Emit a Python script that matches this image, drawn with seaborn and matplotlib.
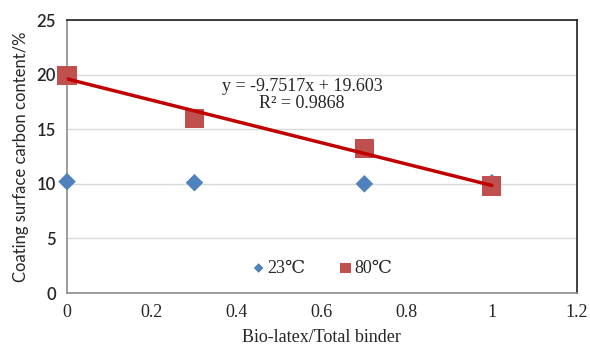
import numpy as np
import pandas as pd
import matplotlib
matplotlib.use("Agg")
import matplotlib.pyplot as plt
import seaborn as sns

# data
ratio = [0, 0.3, 0.7, 1.0]
carbon_23 = [10.2, 10.1, 10.0, 10.1]
carbon_80 = [19.9, 16.0, 13.2, 9.8]
fit_slope = -9.7517
fit_intercept = 19.603
fit_r2 = 0.9868

df = pd.DataFrame({
    "ratio": ratio * 2,
    "carbon": carbon_23 + carbon_80,
    "temp": ["23℃"] * 4 + ["80℃"] * 4,
})

sns.set_style("white")
serif = ["Liberation Serif", "DejaVu Serif", "DejaVu Sans"]
sans = ["Lato", "DejaVu Sans"]
plt.rcParams["font.family"] = serif

fig = plt.figure(figsize=(5.9, 3.48), dpi=100)
ax = fig.add_axes([0.1136, 0.158, 0.864, 0.7845])

ax.grid(axis="y", color="#d9d9d9", linewidth=1)
ax.set_axisbelow(True)

sns.scatterplot(data=df[df.temp == "23℃"], x="ratio", y="carbon", ax=ax,
                marker="D", s=80, color="#4f81bd", edgecolor="none",
                label="23℃", zorder=3, clip_on=False)
sns.scatterplot(data=df[df.temp == "80℃"], x="ratio", y="carbon", ax=ax,
                marker="s", s=190, color="#c0504d", edgecolor="none",
                label="80℃", zorder=3, clip_on=False)

xs = np.array([min(ratio), max(ratio)])
sns.lineplot(x=xs, y=fit_slope * xs + fit_intercept, ax=ax,
             color="#c00000", linewidth=2.5, zorder=4, legend=False)

ax.text(0.553, 18.9, f"y = {fit_slope}x + {fit_intercept}", ha="center",
        va="center", fontsize=13)
ax.text(0.553, 17.4, f"R² = {fit_r2}", ha="center", va="center", fontsize=13)

ax.set_xlim(0, 1.2)
ax.set_ylim(0, 25)
ax.set_xticks([0, 0.2, 0.4, 0.6, 0.8, 1.0, 1.2])
ax.set_xticklabels(["0", "0.2", "0.4", "0.6", "0.8", "1", "1.2"])
ax.set_yticks([0, 5, 10, 15, 20, 25])
ax.tick_params(length=0, pad=8)
for lab in ax.get_xticklabels():
    lab.set_fontsize(13)
for lab in ax.get_yticklabels():
    lab.set_fontfamily(sans)
    lab.set_fontsize(12)
    lab.set_fontweight("semibold")

for side in ["left", "bottom"]:
    ax.spines[side].set_color("#8c8c8c")
for side in ["top", "right"]:
    ax.spines[side].set_color("#202020")
for s in ax.spines.values():
    s.set_linewidth(1.2)

ax.set_xlabel("Bio-latex/Total binder", fontsize=13, labelpad=6)
ax.set_ylabel("Coating surface carbon content/%", fontsize=12,
              family=sans, labelpad=5)

leg = ax.legend(loc="lower center", bbox_to_anchor=(0.5, 0.0), ncol=2,
                frameon=False, prop={"family": serif, "size": 13},
                handlelength=0.8, handletextpad=0.1, columnspacing=1.8,
                markerscale=0.55)

fig.savefig("out.png", dpi=100)
